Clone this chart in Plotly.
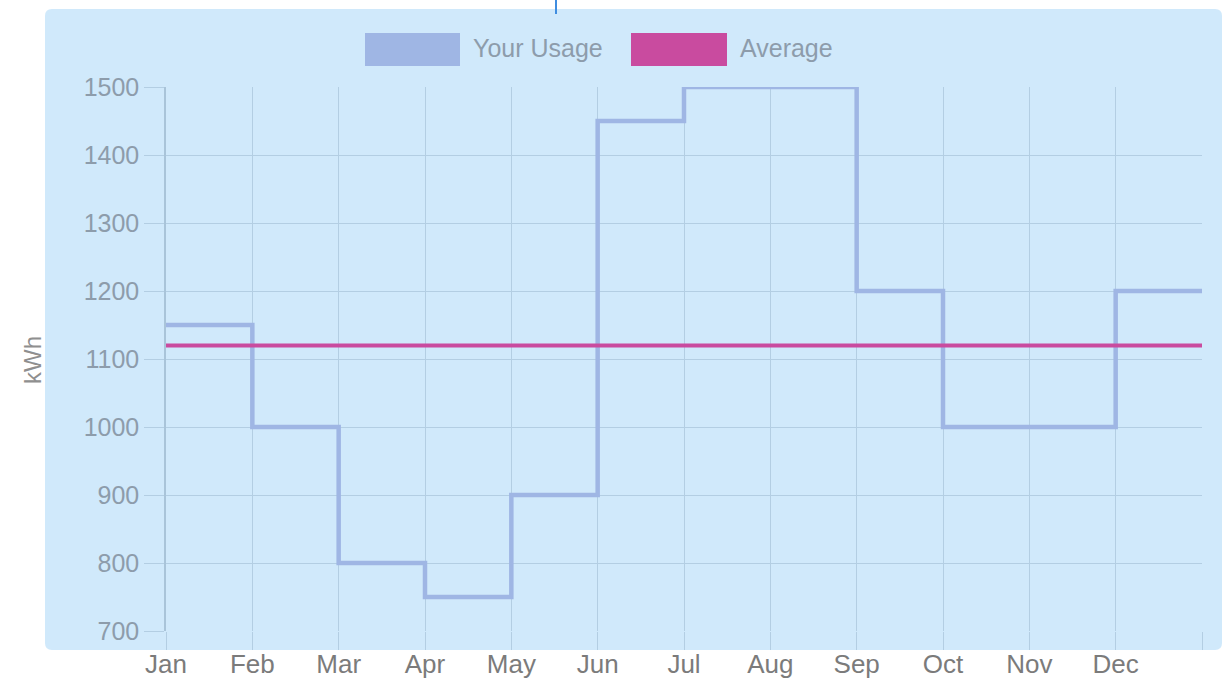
import plotly.graph_objects as go

months = ["Jan", "Feb", "Mar", "Apr", "May", "Jun", "Jul", "Aug", "Sep", "Oct", "Nov", "Dec"]
usage_kwh = [1150, 1000, 800, 750, 900, 1450, 1500, 1500, 1200, 1000, 1000, 1200]
average_kwh = 1120
y_ticks = [700, 800, 900, 1000, 1100, 1200, 1300, 1400, 1500]

W, H = 1232, 683
L, R, T, B = 166, 1202, 87, 631

def px_x(v):
    return (v - L) / (R - L)

def px_y(v):
    return (B - v) / (B - T)

x_idx = list(range(len(months) + 1))
usage_steps = usage_kwh + [usage_kwh[-1]]

USAGE_COLOR = "#9fb6e4"
AVG_COLOR = "#c94b9f"
GRID = "#b3cee3"
FONT = "Liberation Sans"

fig = go.Figure()
fig.add_trace(go.Scatter(x=x_idx, y=usage_steps, mode="lines", line=dict(color=USAGE_COLOR, width=4.5, shape="hv"),
                         name="Your Usage", showlegend=False, hoverinfo="skip", cliponaxis=False))
fig.add_trace(go.Scatter(x=x_idx, y=[average_kwh] * len(x_idx), mode="lines", line=dict(color=AVG_COLOR, width=4),
                         name="Average", showlegend=False, hoverinfo="skip"))

# panel background (rounded rect)
x0, x1, y0, y1 = px_x(45), px_x(1222), px_y(650), px_y(9)
rx, ry = 7 / (R - L), 7 / (B - T)
path = (f"M {x0+rx},{y0} L {x1-rx},{y0} Q {x1},{y0} {x1},{y0+ry} L {x1},{y1-ry} Q {x1},{y1} {x1-rx},{y1} "
        f"L {x0+rx},{y1} Q {x0},{y1} {x0},{y1-ry} L {x0},{y0+ry} Q {x0},{y0} {x0+rx},{y0} Z")
shapes = [dict(type="path", xref="paper", yref="paper", path=path, fillcolor="#d0e9fb", line=dict(width=0), layer="below")]
# small blue marker at top
shapes.append(dict(type="line", xref="paper", yref="paper", x0=px_x(556), x1=px_x(556), y0=px_y(0), y1=px_y(14),
                   line=dict(color="#3f8de0", width=2)))
# legend swatches
for (sx0, sx1, col) in [(365, 460, USAGE_COLOR), (631, 727, AVG_COLOR)]:
    shapes.append(dict(type="rect", xref="paper", yref="paper", x0=px_x(sx0), x1=px_x(sx1), y0=px_y(66), y1=px_y(33),
                       fillcolor=col, line=dict(width=0)))

annotations = [
    dict(text="Your Usage", xref="paper", yref="paper", x=px_x(471), y=px_y(48), xanchor="left", yanchor="middle",
         showarrow=False, font=dict(family=FONT, size=25, color="#8d9cab")),
    dict(text="Average", xref="paper", yref="paper", x=px_x(738), y=px_y(48), xanchor="left", yanchor="middle",
         showarrow=False, font=dict(family=FONT, size=25, color="#8d9cab")),
    dict(text="kWh", xref="paper", yref="paper", x=px_x(32), y=px_y(360), xanchor="center", yanchor="middle",
         textangle=-90, showarrow=False, font=dict(family=FONT, size=24, color="#8f8f8f")),
]

fig.update_layout(
    width=W, height=H,
    margin=dict(l=L, r=W - R, t=T, b=H - B, autoexpand=False),
    paper_bgcolor="white", plot_bgcolor="rgba(0,0,0,0)",
    shapes=shapes, annotations=annotations, showlegend=False,
    xaxis=dict(range=[0, len(months)], tickmode="array", tickvals=x_idx, ticktext=months + [""],
               showgrid=True, gridcolor=GRID, gridwidth=1, zeroline=False, showline=False, automargin=False,
               ticks="outside", ticklen=18, tickcolor=GRID, tickwidth=1, ticklabelstandoff=-8,
               tickfont=dict(family=FONT, size=26, color="#7b7b7b")),
    yaxis=dict(range=[700, 1500], tickmode="array", tickvals=y_ticks,
               showgrid=True, gridcolor=GRID, gridwidth=1, zeroline=False,
               showline=True, linecolor="#a9c4d9", linewidth=1.5, automargin=False,
               ticks="outside", ticklen=20, tickcolor=GRID, tickwidth=1,
               tickfont=dict(family=FONT, size=25, color="#8d9cab")),
)

fig.write_html("out.html", config={"displayModeBar": False},
               post_script="document.body.style.margin='0';document.body.style.overflow='hidden';")
